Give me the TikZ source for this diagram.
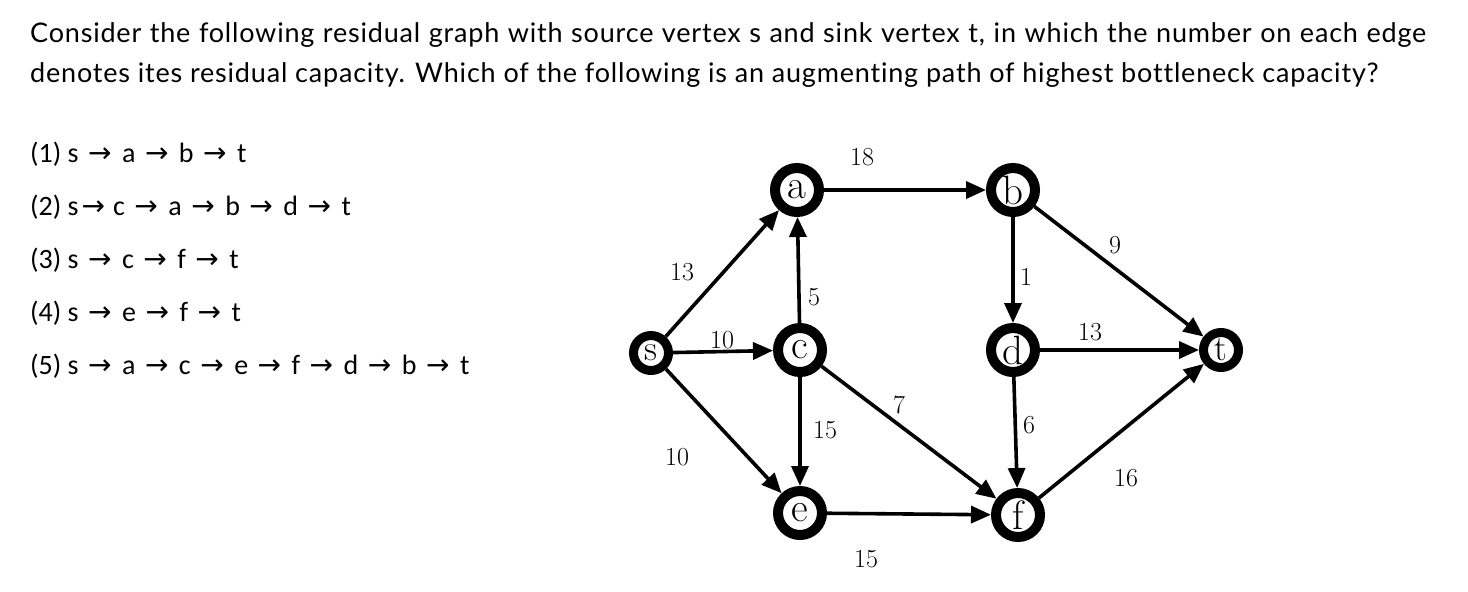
\documentclass[tikz,border=0pt]{standalone}
\usepackage{fontspec}
\newfontfamily\lato[LetterSpace=3,Ligatures={NoCommon}]{Lato}
\newfontfamily\carl{Carlito}
\newfontfamily\dejavu{DejaVu Sans}
\newcommand\ra{\hspace{9.5pt}{\dejavu\fontsize{28}{30}\selectfont →}\hspace{10.5pt}}
\newcommand\rb{\hspace{3pt}{\dejavu\fontsize{28}{30}\selectfont →}\hspace{8pt}}
\usetikzlibrary{arrows.meta}
\begin{document}
\begin{tikzpicture}[x=1pt,y=-1pt,
 vtx/.style={circle,draw,line width=10pt,minimum size=44pt,inner sep=0pt,font=\fontsize{41}{41}\selectfont},
 svtx/.style={vtx,line width=9pt,minimum size=35pt,font=\fontsize{36}{36}\selectfont},
 edge/.style={line width=3.6pt,-{Triangle[length=20pt,width=17pt]}},
 lbl/.style={font=\fontsize{26}{26}\selectfont,inner sep=0pt},
 head/.style={anchor=base west,inner sep=0pt,font=\lato\fontsize{27}{30}\selectfont},
 opt/.style={anchor=base west,inner sep=0pt,font=\carl\fontsize{28}{30}\selectfont}]
\useasboundingbox (0,0) rectangle (1468,592);
\node[head] (h1) at (30,42) {\makebox[1396pt][s]{Consider the following residual graph with source vertex s and sink vertex t, in which the number on each edge}};
\node[head] (h2) at (30,82) {denotes ites residual capacity. Which of the following is an augmenting path of highest bottleneck capacity?};
\node[opt] (o1) at (30,162) {(1) s\ra a\ra b\ra t};
\node[opt] (o2) at (30,215) {(2) s\rb c\ra a\ra b\ra d\ra t};
\node[opt] (o3) at (30,268) {(3) s\ra c\ra f\ra t};
\node[opt] (o4) at (30,321) {(4) s\ra e\ra f\ra t};
\node[opt] (o5) at (30,374) {(5) s\ra a\ra c\ra e\ra f\ra d\ra b\ra t};
% vertices
\node[svtx] (s) at (651,353) {s};
\node[vtx] (a) at (797,190) {a};
\node[vtx] (b) at (1013,190) {b};
\node[vtx] (c) at (800,350) {c};
\node[vtx] (d) at (1013,350) {d};
\node[svtx] (t) at (1221,350) {t};
\node[vtx] (e) at (800,513) {e};
\node[vtx] (f) at (1018,515) {f};
% edges
\draw[edge] (s) -- (a);
\draw[edge] (s) -- (c);
\draw[edge] (s) -- (e);
\draw[edge] (c) -- (a);
\draw[edge] (a) -- (b);
\draw[edge] (b) -- (d);
\draw[edge] (b) -- (t);
\draw[edge] (c) -- (e);
\draw[edge] (c) -- (f);
\draw[edge] (d) -- (t);
\draw[edge] (d) -- (f);
\draw[edge] (e) -- (f);
\draw[edge] (f) -- (t);
% labels
\node[lbl] (l18) at (862,157) {18};
\node[lbl] (l13a) at (682,272) {13};
\node[lbl] (l5) at (814,297) {5};
\node[lbl] (l10a) at (722,340) {10};
\node[lbl] (l1) at (1026,277) {1};
\node[lbl] (l9) at (1115,245) {9};
\node[lbl] (l13b) at (1090,332) {13};
\node[lbl] (l7) at (899,405) {7};
\node[lbl] (l15a) at (825,430) {15};
\node[lbl] (l10b) at (677,457) {10};
\node[lbl] (l6) at (1029,425) {6};
\node[lbl] (l16) at (1126,478) {16};
\node[lbl] (l15b) at (866,559) {15};
\end{tikzpicture}
\end{document}
